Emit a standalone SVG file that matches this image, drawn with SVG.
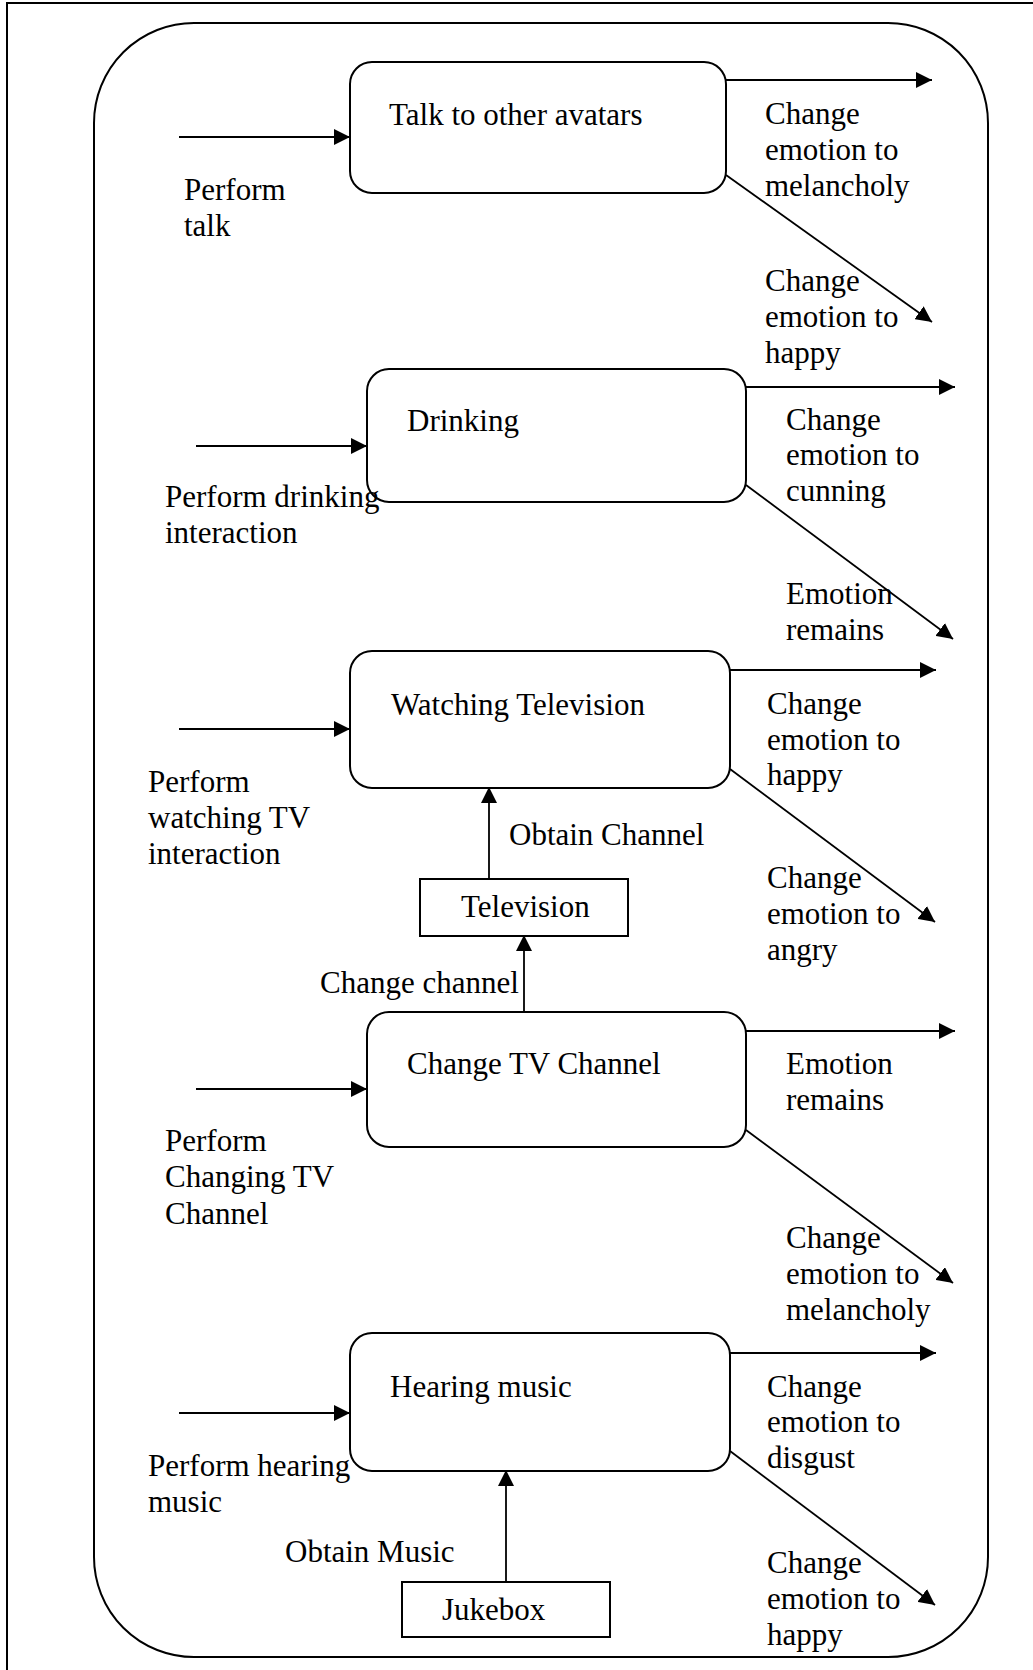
<svg xmlns="http://www.w3.org/2000/svg" width="1033" height="1670" viewBox="0 0 1033 1670">
  <style>
    text { font-family: "Liberation Serif", "Times New Roman", serif; font-size: 31px; fill: #000; }
    .frame { fill: none; stroke: #000; stroke-width: 2; }
    .box { fill: #fff; stroke: #000; stroke-width: 2; }
    .edge { fill: none; stroke: #000; stroke-width: 1.8; marker-end: url(#arrow); }
  </style>
  <defs>
    <marker id="arrow" markerUnits="userSpaceOnUse" markerWidth="17" markerHeight="16" refX="16" refY="8" orient="auto">
      <path d="M0,0 L16,8 L0,16 z" fill="#000"/>
    </marker>
  </defs>

  <rect width="1033" height="1670" fill="#fff"/>

  <!-- page frame and system boundary -->
  <rect class="frame" x="7" y="3" width="1100" height="1720"/>
  <rect class="frame" x="94" y="23" width="894" height="1634" rx="100" ry="100"/>

  <!-- connectors -->
  <g id="connectors">
    <!-- inputs -->
    <line class="edge" x1="179" y1="137" x2="350" y2="137"/>
    <line class="edge" x1="196" y1="446" x2="367" y2="446"/>
    <line class="edge" x1="179" y1="729" x2="350" y2="729"/>
    <line class="edge" x1="196" y1="1089" x2="367" y2="1089"/>
    <line class="edge" x1="179" y1="1413" x2="350" y2="1413"/>
    <!-- outputs: talk -->
    <line class="edge" x1="726" y1="80" x2="932" y2="80"/>
    <line class="edge" x1="726" y1="175" x2="932" y2="322"/>
    <!-- outputs: drinking -->
    <line class="edge" x1="746" y1="387" x2="955" y2="387"/>
    <line class="edge" x1="746" y1="485" x2="953" y2="639"/>
    <!-- outputs: watching television -->
    <line class="edge" x1="730" y1="670" x2="936" y2="670"/>
    <line class="edge" x1="730" y1="769" x2="935" y2="922"/>
    <!-- outputs: change tv channel -->
    <line class="edge" x1="746" y1="1031" x2="955" y2="1031"/>
    <line class="edge" x1="746" y1="1130" x2="953" y2="1283"/>
    <!-- outputs: hearing music -->
    <line class="edge" x1="730" y1="1353" x2="936" y2="1353"/>
    <line class="edge" x1="730" y1="1451" x2="935" y2="1605"/>
    <!-- devices -->
    <line class="edge" x1="489" y1="879" x2="489" y2="787"/>
    <line class="edge" x1="524" y1="1012" x2="524" y2="935"/>
    <line class="edge" x1="506" y1="1582" x2="506" y2="1470"/>
  </g>

  <!-- activity nodes -->
  <g id="talk">
    <rect class="box" x="350" y="62" width="376" height="131" rx="22" ry="22"/>
    <text x="389" y="125">Talk to other avatars</text>
  </g>
  <g id="drinking">
    <rect class="box" x="367" y="369" width="379" height="133" rx="22" ry="22"/>
    <text x="407" y="431">Drinking</text>
  </g>
  <g id="watching-tv">
    <rect class="box" x="350" y="651" width="380" height="137" rx="22" ry="22"/>
    <text x="391" y="715">Watching Television</text>
  </g>
  <g id="television">
    <rect class="box" x="420" y="879" width="208" height="57"/>
    <text x="461" y="917">Television</text>
  </g>
  <g id="change-tv-channel">
    <rect class="box" x="367" y="1012" width="379" height="135" rx="22" ry="22"/>
    <text x="407" y="1074">Change TV Channel</text>
  </g>
  <g id="hearing-music">
    <rect class="box" x="350" y="1333" width="380" height="138" rx="22" ry="22"/>
    <text x="390" y="1397">Hearing music</text>
  </g>
  <g id="jukebox">
    <rect class="box" x="402" y="1582" width="208" height="55"/>
    <text x="442" y="1620">Jukebox</text>
  </g>

  <!-- labels -->
  <g id="labels">
    <text x="184" y="200">Perform</text>
    <text x="184" y="236">talk</text>
    <text x="765" y="124">Change</text>
    <text x="765" y="160">emotion to</text>
    <text x="765" y="196">melancholy</text>
    <text x="765" y="291">Change</text>
    <text x="765" y="327">emotion to</text>
    <text x="765" y="363">happy</text>

    <text x="165" y="507">Perform drinking</text>
    <text x="165" y="543">interaction</text>
    <text x="786" y="430">Change</text>
    <text x="786" y="465">emotion to</text>
    <text x="786" y="501">cunning</text>
    <text x="786" y="604">Emotion</text>
    <text x="786" y="640">remains</text>

    <text x="148" y="792">Perform</text>
    <text x="148" y="828">watching TV</text>
    <text x="148" y="864">interaction</text>
    <text x="767" y="714">Change</text>
    <text x="767" y="750">emotion to</text>
    <text x="767" y="785">happy</text>
    <text x="767" y="888">Change</text>
    <text x="767" y="924">emotion to</text>
    <text x="767" y="960">angry</text>
    <text x="509" y="845">Obtain Channel</text>
    <text x="320" y="993">Change channel</text>

    <text x="165" y="1151">Perform</text>
    <text x="165" y="1187">Changing TV</text>
    <text x="165" y="1224">Channel</text>
    <text x="786" y="1074">Emotion</text>
    <text x="786" y="1110">remains</text>
    <text x="786" y="1248">Change</text>
    <text x="786" y="1284">emotion to</text>
    <text x="786" y="1320">melancholy</text>

    <text x="148" y="1476">Perform hearing</text>
    <text x="148" y="1512">music</text>
    <text x="767" y="1397">Change</text>
    <text x="767" y="1432">emotion to</text>
    <text x="767" y="1468">disgust</text>
    <text x="767" y="1573">Change</text>
    <text x="767" y="1609">emotion to</text>
    <text x="767" y="1645">happy</text>
    <text x="285" y="1562">Obtain Music</text>
  </g>
</svg>
